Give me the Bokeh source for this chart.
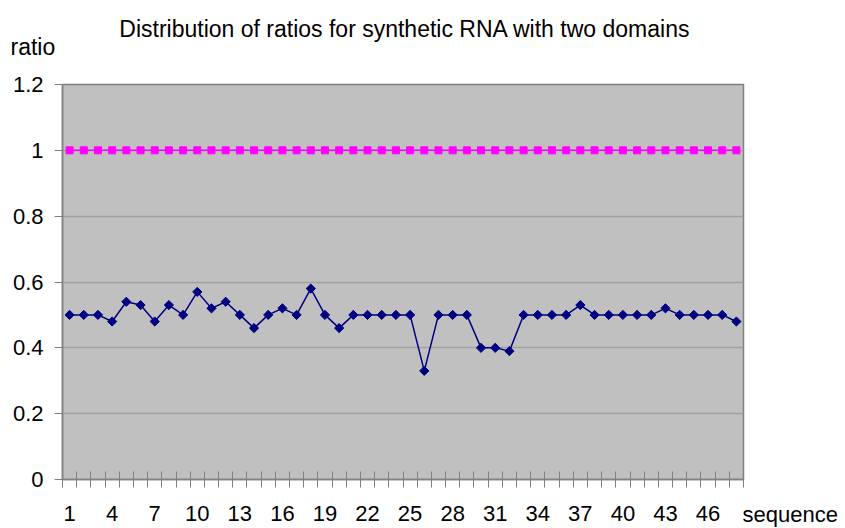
from bokeh.plotting import figure
from bokeh.models import Range1d, FixedTicker, Label
from bokeh.embed import file_html
from bokeh.resources import INLINE

# ---- data ----
sequence = [1, 2, 3, 4, 5, 6, 7, 8, 9, 10, 11, 12, 13, 14, 15, 16, 17, 18, 19, 20,
            21, 22, 23, 24, 25, 26, 27, 28, 29, 30, 31, 32, 33, 34, 35, 36, 37, 38, 39, 40,
            41, 42, 43, 44, 45, 46, 47, 48]
ratio = [0.50, 0.50, 0.50, 0.48, 0.54, 0.53, 0.48, 0.53, 0.50, 0.57,
         0.52, 0.54, 0.50, 0.46, 0.50, 0.52, 0.50, 0.58, 0.50, 0.46,
         0.50, 0.50, 0.50, 0.50, 0.50, 0.33, 0.50, 0.50, 0.50, 0.40,
         0.40, 0.39, 0.50, 0.50, 0.50, 0.50, 0.53, 0.50, 0.50, 0.50,
         0.50, 0.50, 0.52, 0.50, 0.50, 0.50, 0.50, 0.48]
reference = [1.0] * len(sequence)
x_tick_labels = ["1", "4", "7", "10", "13", "16", "19", "22", "25", "28", "31", "34",
                 "37", "40", "43", "46"]
y_ticks = [0, 0.2, 0.4, 0.6, 0.8, 1, 1.2]
y_tick_labels = ["0", "0.2", "0.4", "0.6", "0.8", "1", "1.2"]

FONT = "Liberation Sans"
n = len(sequence)

p = figure(width=845, height=528, output_backend="svg", toolbar_location=None,
           x_range=Range1d(0.5, n + 0.5), y_range=Range1d(0, 1.2),
           min_border_left=62, min_border_right=102, min_border_top=84, min_border_bottom=49,
           title=None)
p.background_fill_color = "#C0C0C0"
p.border_fill_color = "white"
p.outline_line_color = "#808080"
p.outline_line_width = 1.5

# grid
p.xgrid.visible = False
p.ygrid.ticker = FixedTicker(ticks=y_ticks)
p.ygrid.grid_line_color = "#A0A0A0"
p.ygrid.grid_line_width = 1.5

# y axis
p.yaxis.ticker = FixedTicker(ticks=y_ticks)
p.yaxis.major_label_overrides = {t: l for t, l in zip(y_ticks, y_tick_labels)}
p.yaxis.major_label_text_font = FONT
p.yaxis.major_label_text_font_size = "22px"
p.yaxis.major_label_text_color = "black"
p.yaxis.major_label_standoff = 11
p.yaxis.major_tick_in = 0
p.yaxis.major_tick_out = 8
p.yaxis.major_tick_line_color = "#808080"
p.yaxis.minor_tick_line_color = None
p.yaxis.axis_line_color = "#808080"
p.yaxis.axis_line_width = 1.5

# x axis
tick_pos = [int(s) for s in x_tick_labels]
bounds = [s - 0.5 for s in sequence] + [sequence[-1] + 0.5]
p.xaxis.ticker = FixedTicker(ticks=tick_pos, minor_ticks=bounds)
p.xaxis.major_label_overrides = {t: l for t, l in zip(tick_pos, x_tick_labels)}
p.xaxis.major_label_text_font = FONT
p.xaxis.major_label_text_font_size = "22px"
p.xaxis.major_label_text_color = "black"
p.xaxis.major_label_standoff = 18
p.xaxis.major_tick_in = 0
p.xaxis.major_tick_out = 0
p.xaxis.minor_tick_in = 8
p.xaxis.minor_tick_out = 8
p.xaxis.minor_tick_line_color = "#808080"
p.xaxis.axis_line_color = "#808080"
p.xaxis.axis_line_width = 1.5

# series
p.line(sequence, reference, line_color="#FF00FF", line_width=1.5)
p.scatter(sequence, reference, marker="square", size=7, fill_color="#FF00FF",
          line_color="#FF00FF")
p.line(sequence, ratio, line_color="#000080", line_width=1.5)
p.scatter(sequence, ratio, marker="square", angle=0.785398, size=6.5,
          fill_color="#000080", line_color="#000080")

# texts outside the plot area (in side panels so they are not clipped)
p.add_layout(Label(x=n + 0.5, y=0, x_offset=-1, y_offset=-35, text="sequence",
                   text_align="left", text_baseline="alphabetic", text_font=FONT,
                   text_font_size="22px", text_color="black"), "right")
p.add_layout(Label(x=0.5, y=1.2, x_offset=-52, y_offset=37.3, text="ratio",
                   text_align="left", text_baseline="alphabetic", text_font=FONT,
                   text_font_size="23px", text_color="black"), "above")
p.add_layout(Label(x=0.5, y=1.2, x_offset=342.5, y_offset=55.7,
                   text="Distribution of ratios for synthetic RNA with two domains",
                   text_align="center", text_baseline="alphabetic", text_font=FONT,
                   text_font_size="23px", text_color="black"), "above")

open("out.html", "w").write(file_html(p, INLINE))
